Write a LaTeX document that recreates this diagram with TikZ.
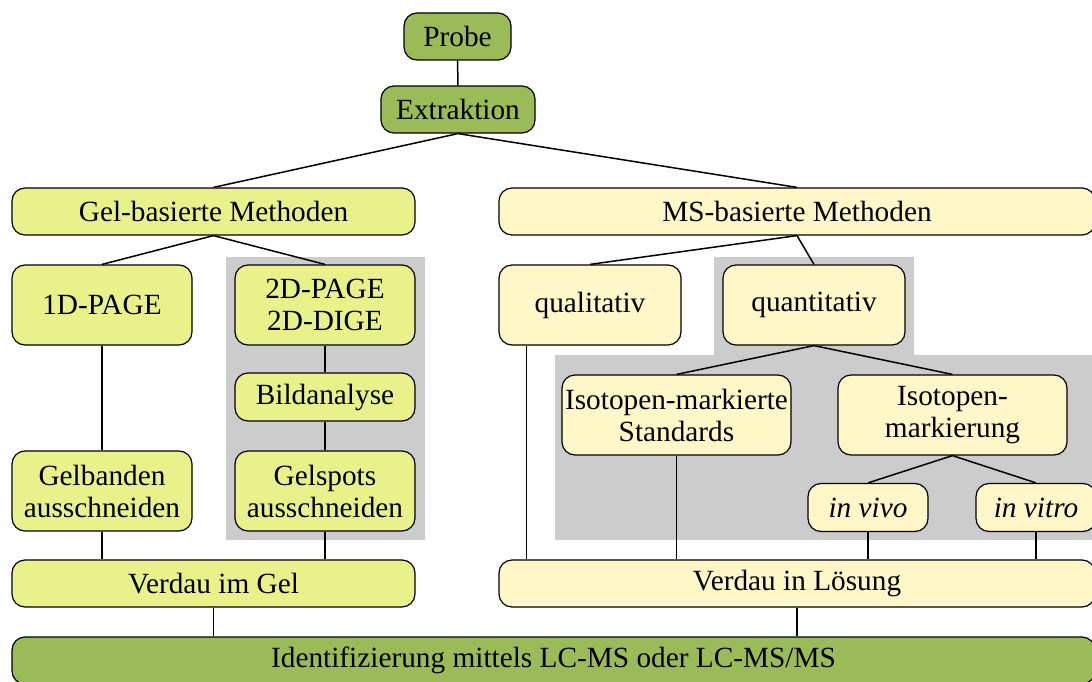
\documentclass[tikz,border=0pt]{standalone}
\usepackage{fontspec}
\setmainfont{Liberation Serif}
\usepackage{xcolor}
\usepackage{tikz}

\definecolor{dunkelgruen}{RGB}{155,187,89}
\definecolor{gelgelb}{RGB}{233,241,138}
\definecolor{msgelb}{RGB}{255,247,200}
\definecolor{hintergrau}{RGB}{204,204,204}

\tikzset{
  box/.style={draw, rounded corners=13pt, line width=1.2pt, align=center, inner sep=2pt,
    font=\fontsize{29.3}{32}\selectfont},
  dunkel/.style={box, fill=dunkelgruen},
  gelbox/.style={box, fill=gelgelb},
  msbox/.style={box, fill=msgelb},
  linie/.style={line width=1.5pt}
}

\begin{document}
\begin{tikzpicture}[x=1pt, y=-1pt]
      \useasboundingbox (0,0) rectangle (1092,682);

      % Graue Hintergruende
      \fill[hintergrau] (226,257) rectangle (425,540);
      \fill[hintergrau] (714,257) rectangle (914,357);
      \fill[hintergrau] (555,355) rectangle (1100,540);

      % Oben
      \node[dunkel, minimum width=107pt, minimum height=47pt] (probe) at (457.5,36.5) {Probe};
      \node[dunkel, minimum width=154pt, minimum height=47pt] (extraktion) at (458,109.5) {Extraktion};

      % Gel-basierte Seite
      \node[gelbox, minimum width=403pt, minimum height=47pt] (gel) at (213.5,211.5) {Gel-basierte Methoden};
      \node[gelbox, minimum width=180pt, minimum height=80pt] (page1) at (102,305) {1D-PAGE};
      \node[gelbox, minimum width=180pt, minimum height=80pt] (page2) at (325,305) {2D-PAGE\\2D-DIGE};
      \node[gelbox, minimum width=180pt, minimum height=48pt] (bild) at (325,397) {Bildanalyse};
      \node[gelbox, minimum width=180pt, minimum height=80pt] (gelbanden) at (102,491) {Gelbanden\\ausschneiden};
      \node[gelbox, minimum width=180pt, minimum height=80pt] (gelspots) at (325,491) {Gelspots\\ausschneiden};
      \node[gelbox, minimum width=403pt, minimum height=47pt] (verdaugel) at (213.5,583.5) {Verdau im Gel};

      % MS-basierte Seite
      \node[msbox, minimum width=596pt, minimum height=47pt] (ms) at (797,211.5) {MS-basierte Methoden};
      \node[msbox, minimum width=182pt, minimum height=80pt] (quali) at (590,305) {qualitativ};
      \node[msbox, minimum width=182pt, minimum height=80pt] (quanti) at (814,305) {quantitativ};
      \node[msbox, minimum width=229pt, minimum height=80pt, inner sep=0pt] (standards) at (676.5,415) {Isotopen-markierte\\Standards};
      \node[msbox, minimum width=229pt, minimum height=80pt] (markierung) at (952.5,415) {Isotopen-\\markierung};
      \node[msbox, minimum width=120pt, minimum height=48pt] (invivo) at (868,507.5) {\textit{in vivo}};
      \node[msbox, minimum width=120pt, minimum height=48pt] (invitro) at (1036,507.5) {\textit{in vitro}};
      \node[msbox, minimum width=596pt, minimum height=47pt] (verdauloes) at (797,583.5) {Verdau in Lösung};

      % Unten
      \node[dunkel, minimum width=1083pt, minimum height=47pt] (ident) at (553.5,660.5) {Identifizierung mittels LC-MS oder LC-MS/MS};

      % Verbindungen
      \draw[linie] (probe) -- (extraktion);
      \draw[linie] (extraktion.south) -- (gel.north);
      \draw[linie] (extraktion.south) -- (ms.north);

      \draw[linie] (gel.south) -- (page1.north);
      \draw[linie] (gel.south) -- (page2.north);
      \draw[linie] (page1) -- (gelbanden);
      \draw[linie] (gelbanden.south) -- (gelbanden.south |- verdaugel.north);
      \draw[linie] (page2) -- (bild);
      \draw[linie] (bild) -- (gelspots);
      \draw[linie] (gelspots.south) -- (gelspots.south |- verdaugel.north);
      \draw[linie] (verdaugel.south) -- (verdaugel.south |- ident.north);

      \draw[linie] (ms.south) -- (quali.north);
      \draw[linie] (ms.south) -- (quanti.north);
      \coordinate[xshift=28pt] (qualiab) at (quali.south west);
      \draw[linie] (qualiab) -- (qualiab |- verdauloes.north);
      \draw[linie] (quanti.south) -- (standards.north);
      \draw[linie] (quanti.south) -- (markierung.north);
      \draw[linie] (standards.south) -- (standards.south |- verdauloes.north);
      \draw[linie] (markierung.south) -- (invivo.north);
      \draw[linie] (markierung.south) -- (invitro.north);
      \draw[linie] (invivo.south) -- (invivo.south |- verdauloes.north);
      \draw[linie] (invitro.south) -- (invitro.south |- verdauloes.north);
      \draw[linie] (verdauloes.south) -- (verdauloes.south |- ident.north);
    \end{tikzpicture}
\end{document}
